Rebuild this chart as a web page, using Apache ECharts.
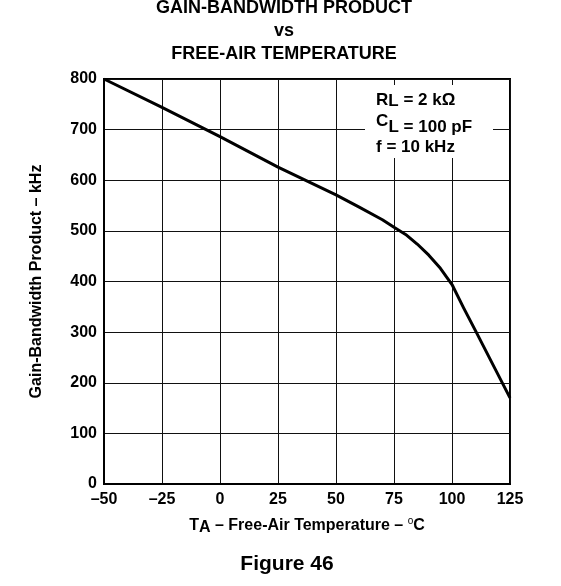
<!DOCTYPE html>
<html>
<head>
<meta charset="utf-8">
<script src="https://cdn.jsdelivr.net/npm/echarts@6/dist/echarts.min.js"></script>
<style>
html,body{margin:0;padding:0;background:#fff;}
#c{width:561px;height:586px;}
</style>
</head>
<body>
<div id="c"></div>
<script>
// Data
const temps = [-50, -25, 0, 25, 50, 60, 70, 75, 80, 85, 90, 95, 100, 105, 110, 125];
const gbw   = [800, 744, 686, 626, 571, 547, 522, 507, 493, 474, 452, 426, 394, 348, 304, 170];
const xTickLabels = ['–50', '–25', '0', '25', '50', '75', '100', '125'];
const yTickLabels = ['0', '100', '200', '300', '400', '500', '600', '700', '800'];
const titleLines = ['GAIN-BANDWIDTH PRODUCT', 'vs', 'FREE-AIR TEMPERATURE'];

const FF = '"Liberation Sans", Arial, Helvetica, sans-serif';
const chart = echarts.init(document.getElementById('c'));

const bold = (size) => ({ font: 'bold ' + size + 'px ' + FF, fill: '#000' });

chart.setOption({
  animation: false,
  backgroundColor: '#fff',
  grid: {
    left: 104, right: 51, top: 79, bottom: 102,
    show: true, borderColor: '#000', borderWidth: 2, backgroundColor: 'transparent'
  },
  xAxis: {
    type: 'value', min: -50, max: 125, interval: 25,
    axisLine: { show: true, onZero: false, lineStyle: { color: '#000', width: 2 } },
    axisTick: { show: false },
    splitLine: { show: true, lineStyle: { color: '#111', width: 1 } },
    axisLabel: {
      margin: 8, color: '#000', fontFamily: FF, fontWeight: 'bold', fontSize: 16,
      formatter: (v, i) => xTickLabels[i]
    },
    name: '{t|T}{s|A}{t| – Free-Air Temperature – }{o|o}{t|C}',
    nameLocation: 'middle', nameGap: 32,
    nameTextStyle: {
      rich: {
        t: { fontFamily: FF, fontWeight: 'bold', fontSize: 16, color: '#000', lineHeight: 20, verticalAlign: 'middle' },
        s: { fontFamily: FF, fontWeight: 'bold', fontSize: 16, color: '#000', lineHeight: 13, verticalAlign: 'bottom' },
        o: { fontFamily: FF, fontWeight: 'normal', fontSize: 10, color: '#000', lineHeight: 12, verticalAlign: 'top' }
      }
    }
  },
  yAxis: {
    type: 'value', min: 0, max: 800, interval: 100,
    axisLine: { show: true, onZero: false, lineStyle: { color: '#000', width: 2 } },
    axisTick: { show: false },
    splitLine: { show: true, lineStyle: { color: '#111', width: 1 } },
    axisLabel: {
      margin: 7, color: '#000', fontFamily: FF, fontWeight: 'bold', fontSize: 16,
      formatter: (v, i) => yTickLabels[i]
    },
    name: 'Gain-Bandwidth Product – kHz',
    nameLocation: 'middle', nameGap: 59,
    nameTextStyle: { fontFamily: FF, fontWeight: 'bold', fontSize: 16, color: '#000' }
  },
  series: [{
    type: 'line',
    data: temps.map((t, i) => [t, gbw[i]]),
    showSymbol: false,
    smooth: false,
    lineStyle: { color: '#000', width: 3, join: 'round' },
    z: 5
  }],
  graphic: [
    { type: 'text', z: 20, style: Object.assign({ text: titleLines[0], x: 284, y: 8, align: 'center', verticalAlign: 'middle' }, bold(18)) },
    { type: 'text', z: 20, style: Object.assign({ text: titleLines[1], x: 284, y: 31, align: 'center', verticalAlign: 'middle' }, bold(18)) },
    { type: 'text', z: 20, style: Object.assign({ text: titleLines[2], x: 284, y: 54, align: 'center', verticalAlign: 'middle' }, bold(18)) },
    { type: 'rect', z: 15, shape: { x: 365, y: 85, width: 128, height: 73 }, style: { fill: '#fff' } },
    { type: 'text', z: 20, style: {
        text: '{t|R}{s|L}{t| = 2 kΩ}', x: 376, y: 100, align: 'left', verticalAlign: 'middle',
        rich: {
          t: { font: 'bold 17px ' + FF, fill: '#000', lineHeight: 20, verticalAlign: 'middle' },
          s: { font: 'bold 17px ' + FF, fill: '#000', lineHeight: 14, verticalAlign: 'bottom' }
        }
    } },
    { type: 'text', z: 20, style: Object.assign({ text: 'C', x: 376, y: 121, align: 'left', verticalAlign: 'middle' }, bold(17)) },
    { type: 'text', z: 20, style: Object.assign({ text: 'L = 100 pF', x: 388.5, y: 127, align: 'left', verticalAlign: 'middle' }, bold(17)) },
    { type: 'text', z: 20, style: Object.assign({ text: 'f = 10 kHz', x: 376, y: 147, align: 'left', verticalAlign: 'middle' }, bold(17)) },
    { type: 'text', z: 20, style: Object.assign({ text: 'Figure 46', x: 287, y: 564, align: 'center', verticalAlign: 'middle' }, bold(21)) }
  ]
});
</script>
</body>
</html>
